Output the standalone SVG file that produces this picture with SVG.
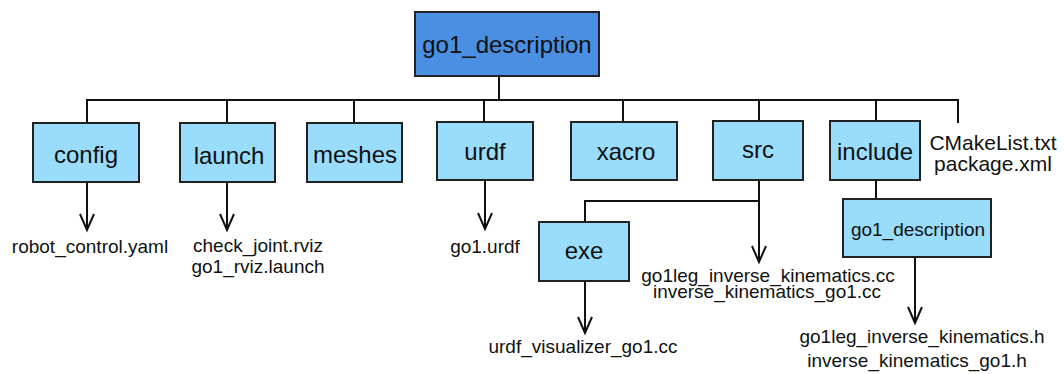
<svg xmlns="http://www.w3.org/2000/svg" width="1064" height="374" viewBox="0 0 1064 374">
<defs>
<style>
.root{fill:#4a8fe2;stroke:#222;stroke-width:2}
.box{fill:#9adcfb;stroke:#222;stroke-width:2}
.lbl{font-family:"Liberation Sans",Arial,sans-serif;font-size:24px;fill:#111;text-anchor:middle}
.lbl2{font-family:"Liberation Sans",Arial,sans-serif;font-size:19px;fill:#111;text-anchor:middle}
.file{font-family:"Liberation Sans",Arial,sans-serif;font-size:19px;fill:#111;text-anchor:middle}
.big{font-family:"Liberation Sans",Arial,sans-serif;font-size:21px;fill:#111;text-anchor:middle}
.ln{fill:none;stroke:#111;stroke-width:2}
</style>
<marker id="arr" markerWidth="20" markerHeight="16" refX="17" refY="8" orient="auto" markerUnits="userSpaceOnUse" viewBox="0 0 20 16">
<path d="M1,1 L17,8 L1,15" fill="none" stroke="#111" stroke-width="2"/>
</marker>
</defs>
<rect width="1064" height="374" fill="#fff"/>
<g id="connectors">
<path class="ln" d="M499,76 V100"/>
<path class="ln" d="M87,123 V100 H958 V123"/>
<path class="ln" d="M227,100 V123"/>
<path class="ln" d="M354,100 V123"/>
<path class="ln" d="M484,100 V122"/>
<path class="ln" d="M623,100 V122"/>
<path class="ln" d="M759,100 V121"/>
<path class="ln" d="M876,100 V121"/>
<path class="ln" d="M87,182 V230" marker-end="url(#arr)"/>
<path class="ln" d="M227,182 V230" marker-end="url(#arr)"/>
<path class="ln" d="M485,180 V229" marker-end="url(#arr)"/>
<path class="ln" d="M759,180 V262" marker-end="url(#arr)"/>
<path class="ln" d="M759,201 H585 V222"/>
<path class="ln" d="M585,281 V333" marker-end="url(#arr)"/>
<path class="ln" d="M876,180 V199"/>
<path class="ln" d="M915,257 V323" marker-end="url(#arr)"/>
</g>
<g id="root"><rect class="root" x="415" y="12" width="184" height="64"/><text class="lbl" x="507" y="53">go1_description</text></g>
<g id="config"><rect class="box" x="33" y="123" width="106" height="59"/><text class="lbl" x="86" y="163">config</text></g>
<g id="launch"><rect class="box" x="180" y="123" width="95" height="59"/><text class="lbl" x="229" y="164">launch</text></g>
<g id="meshes"><rect class="box" x="307" y="123" width="95" height="59"/><text class="lbl" x="355" y="163">meshes</text></g>
<g id="urdf"><rect class="box" x="437" y="122" width="96" height="58"/><text class="lbl" x="485" y="160">urdf</text></g>
<g id="xacro"><rect class="box" x="571" y="122" width="106" height="58"/><text class="lbl" x="626" y="160">xacro</text></g>
<g id="src"><rect class="box" x="713" y="121" width="90" height="59"/><text class="lbl" x="758" y="158">src</text></g>
<g id="include"><rect class="box" x="830" y="121" width="90" height="59"/><text class="lbl" x="875" y="160">include</text></g>
<g id="cmake"><text class="big" x="993" y="150">CMakeList.txt</text><text class="big" x="993" y="171">package.xml</text></g>
<g id="exe"><rect class="box" x="539" y="222" width="90" height="59"/><text class="lbl" x="584" y="259">exe</text></g>
<g id="inc_go1"><rect class="box" x="843" y="199" width="148" height="58"/><text class="lbl2" x="918" y="236">go1_description</text></g>
<g id="files">
<text class="file" x="90" y="253">robot_control.yaml</text>
<text class="file" x="258" y="252">check_joint.rviz</text>
<text class="file" x="258" y="273">go1_rviz.launch</text>
<text class="file" x="485" y="253">go1.urdf</text>
<text class="file" x="768" y="282">go1leg_inverse_kinematics.cc</text>
<text class="file" x="767" y="298">inverse_kinematics_go1.cc</text>
<text class="file" x="583" y="353">urdf_visualizer_go1.cc</text>
<text class="file" x="922" y="343">go1leg_inverse_kinematics.h</text>
<text class="file" x="917" y="367">inverse_kinematics_go1.h</text>
</g>
</svg>
